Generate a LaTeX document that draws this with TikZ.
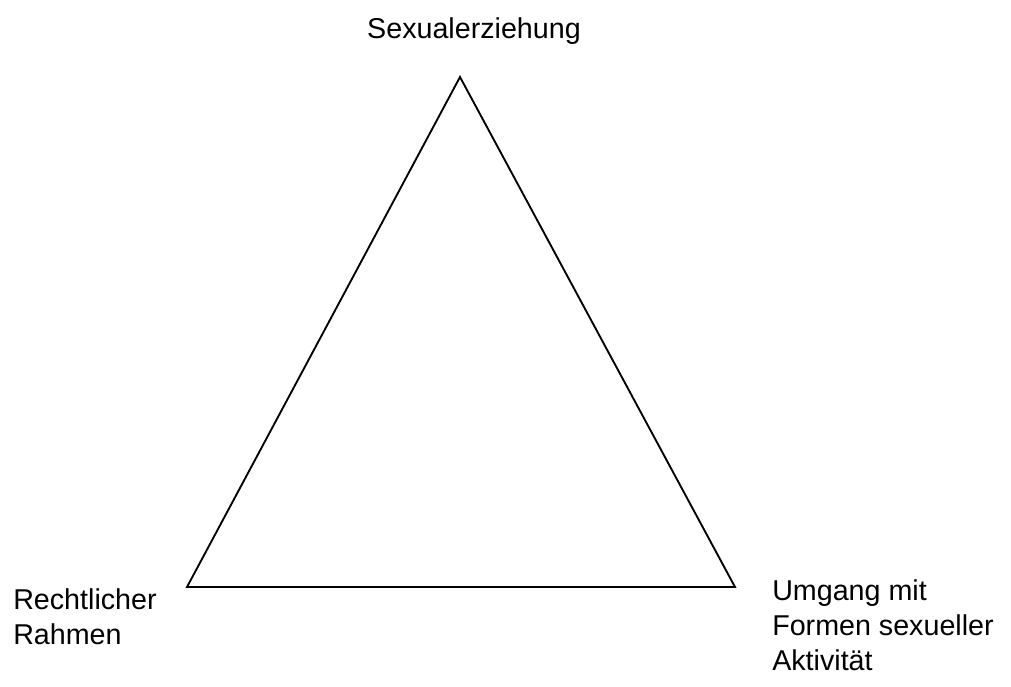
\documentclass[tikz,border=0pt]{standalone}
\usepackage{fontspec}
\setmainfont{Liberation Sans}
\usepackage{tikz}

\begin{document}
\begin{tikzpicture}[x=0.75pt,y=-0.75pt,
            label/.style={font=\fontsize{21.5}{26}\selectfont, inner sep=0pt, align=left},
            side/.style={line width=1.4pt, line join=miter}
        ]
        \useasboundingbox (0,0) rectangle (1011,686);
        \coordinate (apex) at (460,77);
        \coordinate (lcorner) at (187,587);
        \coordinate (rcorner) at (735,587);
        \draw[side] (apex) -- (lcorner) -- (rcorner) -- cycle;
        % the base anchor sits on the last line
        \node[label, anchor=base] (erz) at (474,38) {Sexualerziehung};
        \node[label, anchor=base west] (recht) at (13,644) {Rechtlicher\\Rahmen};
        \node[label, anchor=base west] (umgang) at (772,670) {Umgang mit\\Formen sexueller\\Aktivität};
    \end{tikzpicture}
\end{document}
